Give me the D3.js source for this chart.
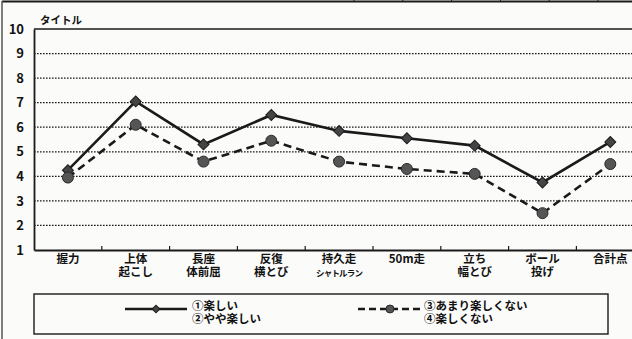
<!DOCTYPE html>
<html>
<head>
<meta charset="utf-8">
<script src="https://cdn.jsdelivr.net/npm/d3@7"></script>
<style>
  html, body { margin: 0; padding: 0; background: #fbfbfa; }
  svg { display: block; }
  text { font-family: "Noto Sans CJK JP", "Noto Sans", sans-serif; font-weight: 700; fill: #111; }
</style>
</head>
<body>
<svg id="chart" width="632" height="339"></svg>
<script>
// 種目（2段表記は改行で区切る）
const categories = [
  ["握力"],
  ["上体", "起こし"],
  ["長座", "体前屈"],
  ["反復", "横とび"],
  ["持久走", "シャトルラン"],
  ["50m走"],
  ["立ち", "幅とび"],
  ["ボール", "投げ"],
  ["合計点"]
];
// ①楽しい・②やや楽しい
const enjoyValues = [4.25, 7.05, 5.3, 6.5, 5.85, 5.55, 5.25, 3.75, 5.4];
// ③あまり楽しくない・④楽しくない
const notEnjoyValues = [3.95, 6.1, 4.6, 5.45, 4.6, 4.3, 4.1, 2.5, 4.5];
const yTicks = [1, 2, 3, 4, 5, 6, 7, 8, 9, 10];
const chartTitle = "タイトル";
const legendA = ["①楽しい", "②やや楽しい"];
const legendB = ["③あまり楽しくない", "④楽しくない"];

const svg = d3.select("#chart");
const ink = "#1a1a1a";

// 外枠
svg.append("line").attr("x1", 2).attr("x2", 632).attr("y1", 1.5).attr("y2", 1.5)
  .attr("stroke", ink).attr("stroke-width", 2);
svg.append("line").attr("x1", 2).attr("x2", 2).attr("y1", 1).attr("y2", 339)
  .attr("stroke", "#555").attr("stroke-width", 1.5);
d3.range(354, 632, 48.8).forEach(px => {
  svg.append("line").attr("x1", px).attr("x2", px).attr("y1", 0).attr("y2", 2)
    .attr("stroke", ink).attr("stroke-width", 1);
});

const plotLeft = 34, plotTop = 29, plotBottom = 250;
const x = d3.scaleBand().domain(d3.range(categories.length)).range([plotLeft, plotLeft + 9 * 67.8]);
const y = d3.scaleLinear().domain([1, 10]).range([plotBottom, plotTop]);

// 目盛線
const g = svg.append("g");
yTicks.filter(t => t > 1 && t < 10).forEach(t => {
  g.append("line").attr("x1", plotLeft).attr("x2", 632).attr("y1", y(t)).attr("y2", y(t))
    .attr("stroke", ink).attr("stroke-width", 1.3).attr("stroke-dasharray", "1.6,1.4");
});
g.append("line").attr("x1", plotLeft).attr("x2", 632).attr("y1", y(10)).attr("y2", y(10))
  .attr("stroke", ink).attr("stroke-width", 1.6);

// Y軸
const yAxis = d3.axisLeft(y).tickValues(yTicks).tickSize(0).tickPadding(10).tickFormat(d3.format("d"));
const ya = svg.append("g").attr("transform", `translate(${plotLeft},0)`).call(yAxis);
ya.select(".domain").attr("stroke", ink).attr("stroke-width", 1.8);
ya.selectAll("text").attr("font-size", 13).attr("fill", "#111")
  .style("font-family", "Noto Sans CJK JP").style("font-weight", 700);

// X軸
const xa = svg.append("g").attr("transform", `translate(0,${plotBottom})`)
  .call(d3.axisBottom(x).tickSize(0).tickFormat(""));
xa.select(".domain").attr("stroke", ink).attr("stroke-width", 1.8);
d3.range(1, categories.length).forEach(i => {
  svg.append("line").attr("x1", x(i)).attr("x2", x(i)).attr("y1", plotBottom).attr("y2", plotBottom - 4)
    .attr("stroke", ink).attr("stroke-width", 1.2);
});
// 2段ラベルは1つのtextにtspanで並べる
categories.forEach((lines, i) => {
  const cx = x(i) + x.bandwidth() / 2;
  const t = svg.append("text").attr("x", cx).attr("y", 263)
    .attr("text-anchor", "middle").attr("font-size", 11.5);
  lines.forEach((s, j) => {
    const small = s === "シャトルラン";
    t.append("tspan").attr("x", cx).attr("dy", j === 0 ? 0 : 13)
      .attr("font-size", small ? 8.5 : 11.5)
      .attr("letter-spacing", small ? -0.8 : 0)
      .text(s);
  });
});

// タイトル
svg.append("text").attr("x", 40).attr("y", 24).attr("font-size", 10.5).text(chartTitle);

// 折れ線
const cxOf = i => x(i) + x.bandwidth() / 2;
const line = d3.line().x((d, i) => cxOf(i)).y(d => y(d));

svg.append("path").datum(notEnjoyValues).attr("d", line)
  .attr("fill", "none").attr("stroke", ink).attr("stroke-width", 2.6).attr("stroke-dasharray", "8,5");
svg.append("path").datum(enjoyValues).attr("d", line)
  .attr("fill", "none").attr("stroke", ink).attr("stroke-width", 2.6);

svg.selectAll(".mk-a").data(enjoyValues).enter().append("path")
  .attr("transform", (d, i) => `translate(${cxOf(i)},${y(d)}) rotate(45)`)
  .attr("d", d3.symbol().type(d3.symbolSquare).size(60))
  .attr("fill", "#444").attr("stroke", ink).attr("stroke-width", 1);
svg.selectAll(".mk-b").data(notEnjoyValues).enter().append("circle")
  .attr("cx", (d, i) => cxOf(i)).attr("cy", d => y(d)).attr("r", 5.5)
  .attr("fill", "#555").attr("stroke", "#2a2a2a").attr("stroke-width", 1);

// 凡例
svg.append("rect").attr("x", 34).attr("y", 294).attr("width", 574).attr("height", 40)
  .attr("fill", "none").attr("stroke", ink).attr("stroke-width", 1.4);
svg.append("line").attr("x1", 125).attr("x2", 187).attr("y1", 309).attr("y2", 309)
  .attr("stroke", ink).attr("stroke-width", 2.6);
svg.append("path").attr("transform", "translate(156,309) rotate(45)")
  .attr("d", d3.symbol().type(d3.symbolSquare).size(30)).attr("fill", "#444").attr("stroke", ink);
svg.append("line").attr("x1", 358).attr("x2", 420).attr("y1", 309).attr("y2", 309)
  .attr("stroke", ink).attr("stroke-width", 2.6).attr("stroke-dasharray", "7,4");
svg.append("circle").attr("cx", 390).attr("cy", 309).attr("r", 4)
  .attr("fill", "#555").attr("stroke", "#2a2a2a");
[[legendA, 192], [legendB, 424]].forEach(([lines, lx]) => {
  const t = svg.append("text").attr("x", lx).attr("y", 310).attr("font-size", 11.5);
  lines.forEach((s, j) => t.append("tspan").attr("x", lx).attr("dy", j === 0 ? 0 : 13).text(s));
});
</script>
</body>
</html>
